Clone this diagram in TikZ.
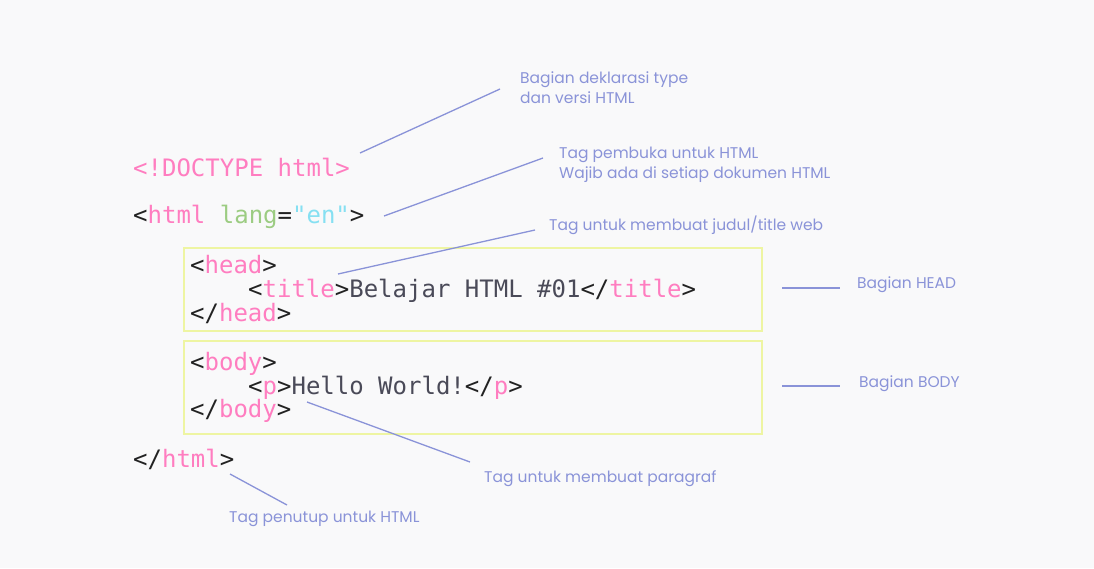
\documentclass[tikz,border=0pt]{standalone}
\usepackage{fontspec}
\setmainfont{Poppins}
\newfontfamily\codefont{DejaVu Sans Mono}
\usetikzlibrary{positioning}
\definecolor{bgpaper}{HTML}{F9F9FA}
\definecolor{tagpink}{HTML}{FF7DC0}
\definecolor{attrgreen}{HTML}{9CCC82}
\definecolor{valcyan}{HTML}{86E0F2}
\definecolor{bracket}{HTML}{222222}
\definecolor{plain}{HTML}{4A4A58}
\definecolor{note}{HTML}{8A93D8}
\definecolor{frame}{HTML}{EEF5A2}
\newcommand{\tg}[1]{\textcolor{tagpink}{#1}}
\tikzset{
  code/.style={anchor=base west, inner sep=0pt, text=bracket,
    font=\codefont\fontsize{24}{28}\selectfont},
  ann/.style={anchor=west, inner sep=0pt, text=note, align=left,
    font=\fontsize{15.5}{20}\selectfont},
  pointer/.style={draw=note, line width=1.3pt},
  block/.style={draw=frame, line width=1.6pt},
}

\begin{document}
\begin{tikzpicture}[x=1pt, y=-1pt]
  \useasboundingbox[fill=bgpaper] (0,0) rectangle (1094,568);

  % Blocks
  \draw[block] (184,248) rectangle (762,331);
  \draw[block] (184,341) rectangle (762,434);

  % Code lines
  \node[code, text=tagpink] (doctype) at (133,176) {<!DOCTYPE html>};
  \node[code] (htmlopen) at (133,223)
    {<\tg{html} \textcolor{attrgreen}{lang}=\textcolor{valcyan}{"en"}>};
  \node[code] (headopen) at (190,273) {<\tg{head}>};
  \node[code] (titleline) at (248,297)
    {<\tg{title}>\textcolor{plain}{Belajar HTML \#01}</\tg{title}>};
  \node[code] (headclose) at (190,321) {</\tg{head}>};
  \node[code] (bodyopen) at (190,370) {<\tg{body}>};
  \node[code] (pline) at (248,394) {<\tg{p}>\textcolor{plain}{Hello World!}</\tg{p}>};
  \node[code] (bodyclose) at (190,417) {</\tg{body}>};
  \node[code] (htmlclose) at (133,467) {</\tg{html}>};

  % Notes
  \node[ann] (ndoctype) at (520,88) {Bagian deklarasi type\\dan versi HTML};
  \node[ann] (nhtml) at (559,165) {Tag pembuka untuk HTML\\Wajib ada di setiap dokumen HTML};
  \node[ann] (ntitle) at (549,225) {Tag untuk membuat judul/title web};
  \node[ann] (nhead) at (857,285) {Bagian HEAD};
  \node[ann] (nbody) at (859,384) {Bagian BODY};
  \node[ann] (npara) at (484,479) {Tag untuk membuat paragraf};
  \node[ann] (nclose) at (229,519) {Tag penutup untuk HTML};

  % Pointer ends on the code side
  \coordinate (cdoctype) at (360,153);
  \coordinate (chtml) at (384,216);
  \coordinate (ctitle) at (338,274);
  \coordinate (chead) at (782,288);
  \coordinate (cbody) at (782,386);
  \coordinate (cpara) at (307,402);
  \coordinate (cclose) at (230,474);

  % Pointers
  \draw[pointer] (cdoctype) -- ([xshift=-20pt, yshift=-1pt]ndoctype.west);
  \draw[pointer] (chtml) -- ([xshift=-16pt, yshift=7pt]nhtml.west);
  \draw[pointer] (ctitle) -- ([xshift=-14pt, yshift=-5pt]ntitle.west);
  \draw[pointer] (chead) -- ([xshift=-17pt, yshift=-3pt]nhead.west);
  \draw[pointer] (cbody) -- ([xshift=-19pt, yshift=-2pt]nbody.west);
  \draw[pointer] (cpara) -- ([xshift=-14pt, yshift=17pt]npara.west);
  \draw[pointer] (cclose) -- ([xshift=58pt, yshift=14pt]nclose.west);
\end{tikzpicture}
\end{document}
